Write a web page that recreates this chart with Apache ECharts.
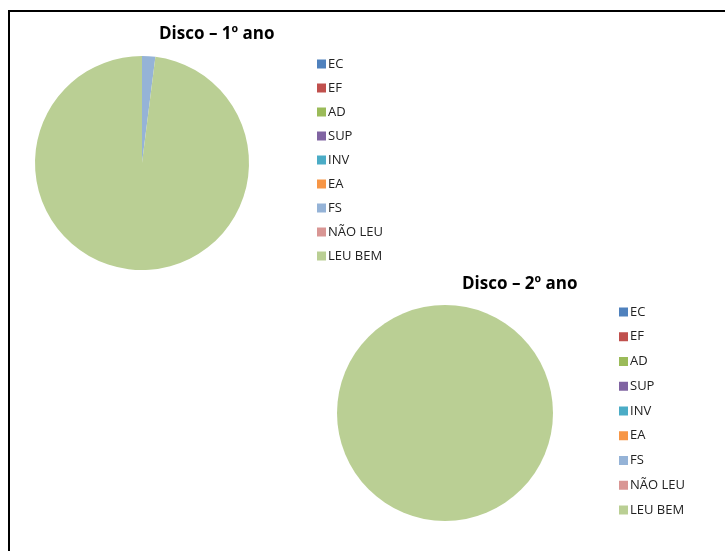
<!DOCTYPE html>
<html>
<head>
<meta charset="utf-8">
<script src="https://cdn.jsdelivr.net/npm/echarts@6/dist/echarts.min.js"></script>
<style>
  html, body { margin: 0; padding: 0; background: #fff; }
  #chart { width: 725px; height: 551px; }
</style>
</head>
<body>
<div id="chart"></div>
<script>
// categorias e valores (%)
var categorias = ['EC', 'EF', 'AD', 'SUP', 'INV', 'EA', 'FS', 'NÃO LEU', 'LEU BEM'];
var cores = ['#4F81BD', '#C0504D', '#9BBB59', '#8064A2', '#4BACC6', '#F79646', '#95B3D7', '#D99694', '#BACF94'];
var ano1 = [0, 0, 0, 0, 0, 0, 2, 0, 98];
var ano2 = [0, 0, 0, 0, 0, 0, 0, 0, 100];

function montaDados(vals) {
  return categorias.map(function (c, i) {
    return { name: c, value: vals[i], itemStyle: { color: cores[i] } };
  });
}

var fonte = '"Open Sans", "Liberation Sans", sans-serif';

var myChart = echarts.init(document.getElementById('chart'));
myChart.setOption({
  animation: false,
  backgroundColor: '#fff',
  title: [
    { text: 'Disco – 1º ano', left: 154, top: 21,
      textStyle: { fontFamily: fonte, fontSize: 17, fontWeight: 'bold', color: '#000' } },
    { text: 'Disco – 2º ano', left: 457, top: 271,
      textStyle: { fontFamily: fonte, fontSize: 17, fontWeight: 'bold', color: '#000' } }
  ],
  legend: [
    {
      orient: 'vertical', left: 312, top: 51,
      data: categorias, itemWidth: 9, itemHeight: 9, itemGap: 8,
      icon: 'rect', selectedMode: false,
      textStyle: { fontFamily: fonte, fontSize: 13, color: '#222', lineHeight: 16, padding: [0, 0, 0, -3] }
    },
    {
      orient: 'vertical', left: 614, top: 299,
      data: categorias, itemWidth: 9, itemHeight: 9, itemGap: 8.75,
      icon: 'rect', selectedMode: false,
      textStyle: { fontFamily: fonte, fontSize: 13, color: '#222', lineHeight: 16, padding: [0, 0, 0, -3] }
    }
  ],
  graphic: [
    { type: 'rect', shape: { x: 9, y: 11, width: 740, height: 560 },
      style: { fill: 'none', stroke: '#000', lineWidth: 2 }, silent: true }
  ],
  series: [
    {
      type: 'pie', center: [142, 163], radius: 107, startAngle: 90,
      label: { show: false }, labelLine: { show: false },
      emphasis: { disabled: true }, silent: true,
      itemStyle: { borderWidth: 0 },
      data: montaDados(ano1)
    },
    {
      type: 'pie', center: [445, 413], radius: 108, startAngle: 90,
      label: { show: false }, labelLine: { show: false },
      emphasis: { disabled: true }, silent: true,
      itemStyle: { borderWidth: 0 },
      data: montaDados(ano2)
    }
  ]
});
</script>
</body>
</html>
